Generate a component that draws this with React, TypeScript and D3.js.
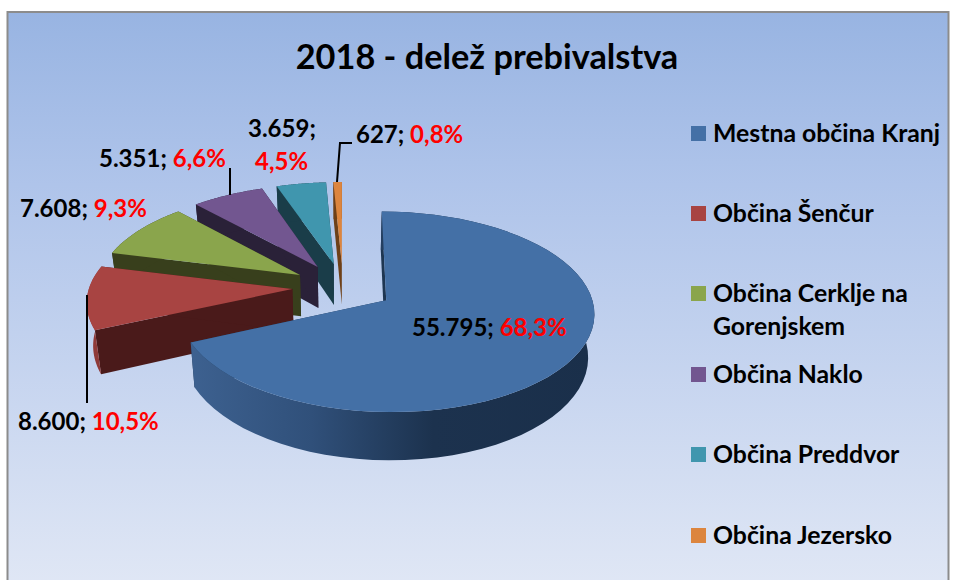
import React from "react";
import * as d3 from "d3";

const title = "2018 - delež prebivalstva";
const categories = ["Mestna občina Kranj", "Občina Šenčur", "Občina Cerklje na Gorenjskem", "Občina Naklo", "Občina Preddvor", "Občina Jezersko"];
const values = [55795, 8600, 7608, 5351, 3659, 627];
const valueLabels = ["55.795;", "8.600;", "7.608;", "5.351;", "3.659;", "627;"];
const percentLabels = ["68,3%", "10,5%", "9,3%", "6,6%", "4,5%", "0,8%"];
const topColors = ["#4470a6", "#a84442", "#8aa54c", "#725690", "#4096ae", "#dc853e"];
const sideColors = ["#1e3652", "#4a1a1a", "#383f1c", "#2a2138", "#1a3d49", "#6e4018"];
const edgeStart = ["#3d6190", "#8f3a38", "#383f1c", "#2a2138", "#1a3d49", "#6e4018"];

const FONT = "Lato, Carlito, sans-serif";
const CX = 343, CY = 287, SX = 203, SY = 95.9, P = 0.1135, EXPLODE = 0.25, H = 42, SHRINK = 0.975;

const project = (u: number, v: number): [number, number] => {
  const k = 1 / (1 + P * v);
  return [CX + SX * u * k, CY - SY * v * k];
};
const projectDown = (u: number, v: number): [number, number] => {
  const k = 1 / (1 + P * v);
  return [CX + SX * u * k * SHRINK, CY - SY * v * k + H * k];
};

const pie = d3.pie<number>().sort(null).startAngle(0).endAngle(2 * Math.PI);
const arcs = pie(values);

function slicePaths(a: d3.PieArcDatum<number>) {
  const mid = (a.startAngle + a.endAngle) / 2;
  const ou = EXPLODE * Math.sin(mid), ov = EXPLODE * Math.cos(mid);
  const angles = d3.range(0, 61).map(i => a.startAngle + (a.endAngle - a.startAngle) * i / 60);
  const pts = angles.map(t => [ou + Math.sin(t), ov + Math.cos(t)] as [number, number]);
  const rim = pts.map(p => project(p[0], p[1]));
  const rimDown = pts.map(p => projectDown(p[0], p[1]));
  const apex = project(ou, ov);
  const apexDown = projectDown(ou, ov);
  const line = d3.line();
  const top = line([apex, ...rim])! + "Z";
  const wallA = line([apex, rim[0], rimDown[0], apexDown])! + "Z";
  const wallB = line([apex, rim[60], rimDown[60], apexDown])! + "Z";
  const outer = line([...rim, ...rimDown.slice().reverse()])! + "Z";
  return { top, wallA, wallB, outer };
}

const legendY = [134, 214, 294, 375, 455, 536];

export default function App() {
  const order = d3.range(values.length).reverse();
  return (
    <svg width={956} height={580} style={{ position: "absolute", left: 0, top: 0 }} fontFamily={FONT} fontWeight={700}>
      <defs>
        <linearGradient id="bg" x1="0" y1="0" x2="0" y2="1">
          <stop offset="0" stopColor="#98b4e2" />
          <stop offset="0.3" stopColor="#afc4ea" />
          <stop offset="1" stopColor="#e0e7f5" />
        </linearGradient>
        <linearGradient id="blueWall" gradientUnits="userSpaceOnUse" x1="190" y1="0" x2="595" y2="0">
          <stop offset="0" stopColor="#3d6190" />
          <stop offset="0.3" stopColor="#30507a" />
          <stop offset="0.6" stopColor="#1c324e" />
          <stop offset="1" stopColor="#1a2f4a" />
        </linearGradient>
      </defs>
      <rect x={7.5} y={12} width={941} height={575} fill="url(#bg)" stroke="#8c8c8c" strokeWidth={2} />
      <text x={487} y={69} textAnchor="middle" fontSize={34.3} fill="#000">{title}</text>

      {order.map(i => {
        const s = slicePaths(arcs[i]);
        return (
          <g key={i}>
            <path d={s.wallA} fill={sideColors[i]} />
            <path d={s.wallB} fill={sideColors[i]} />
            <path d={s.outer} fill={i === 0 ? "url(#blueWall)" : edgeStart[i]} />
            <path d={s.top} fill={topColors[i]} />
          </g>
        );
      })}

      <path d="M87,295V403" stroke="#000" strokeWidth={2} fill="none" />
      <path d="M230,168V195" stroke="#000" strokeWidth={2} fill="none" />
      <path d="M352,143H340L337,182" stroke="#000" strokeWidth={2} fill="none" />

      <g fontSize={24}>
        <text x={412} y={336}><tspan fill="#000">{valueLabels[0]} </tspan><tspan fill="#ff0000">{percentLabels[0]}</tspan></text>
        <text x={18} y={430}><tspan fill="#000">{valueLabels[1]} </tspan><tspan fill="#ff0000">{percentLabels[1]}</tspan></text>
        <text x={20} y={217}><tspan fill="#000">{valueLabels[2]} </tspan><tspan fill="#ff0000">{percentLabels[2]}</tspan></text>
        <text x={99} y={167}><tspan fill="#000">{valueLabels[3]} </tspan><tspan fill="#ff0000">{percentLabels[3]}</tspan></text>
        <text x={248} y={137} fill="#000">{valueLabels[4]}</text>
        <text x={255} y={170} fill="#ff0000">{percentLabels[4]}</text>
        <text x={356} y={143}><tspan fill="#000">{valueLabels[5]} </tspan><tspan fill="#ff0000">{percentLabels[5]}</tspan></text>
      </g>

      <g fontSize={24.8} fill="#000">
        {categories.map((c, i) => {
          const parts = i === 2 ? ["Občina Cerklje na", "Gorenjskem"] : [c];
          return (
            <g key={c}>
              <rect x={691} y={legendY[i] - 8} width={15} height={15} fill={topColors[i]} />
              {parts.map((t, j) => <text key={t} x={713} y={legendY[i] + 8 + j * 33}>{t}</text>)}
            </g>
          );
        })}
      </g>
    </svg>
  );
}
